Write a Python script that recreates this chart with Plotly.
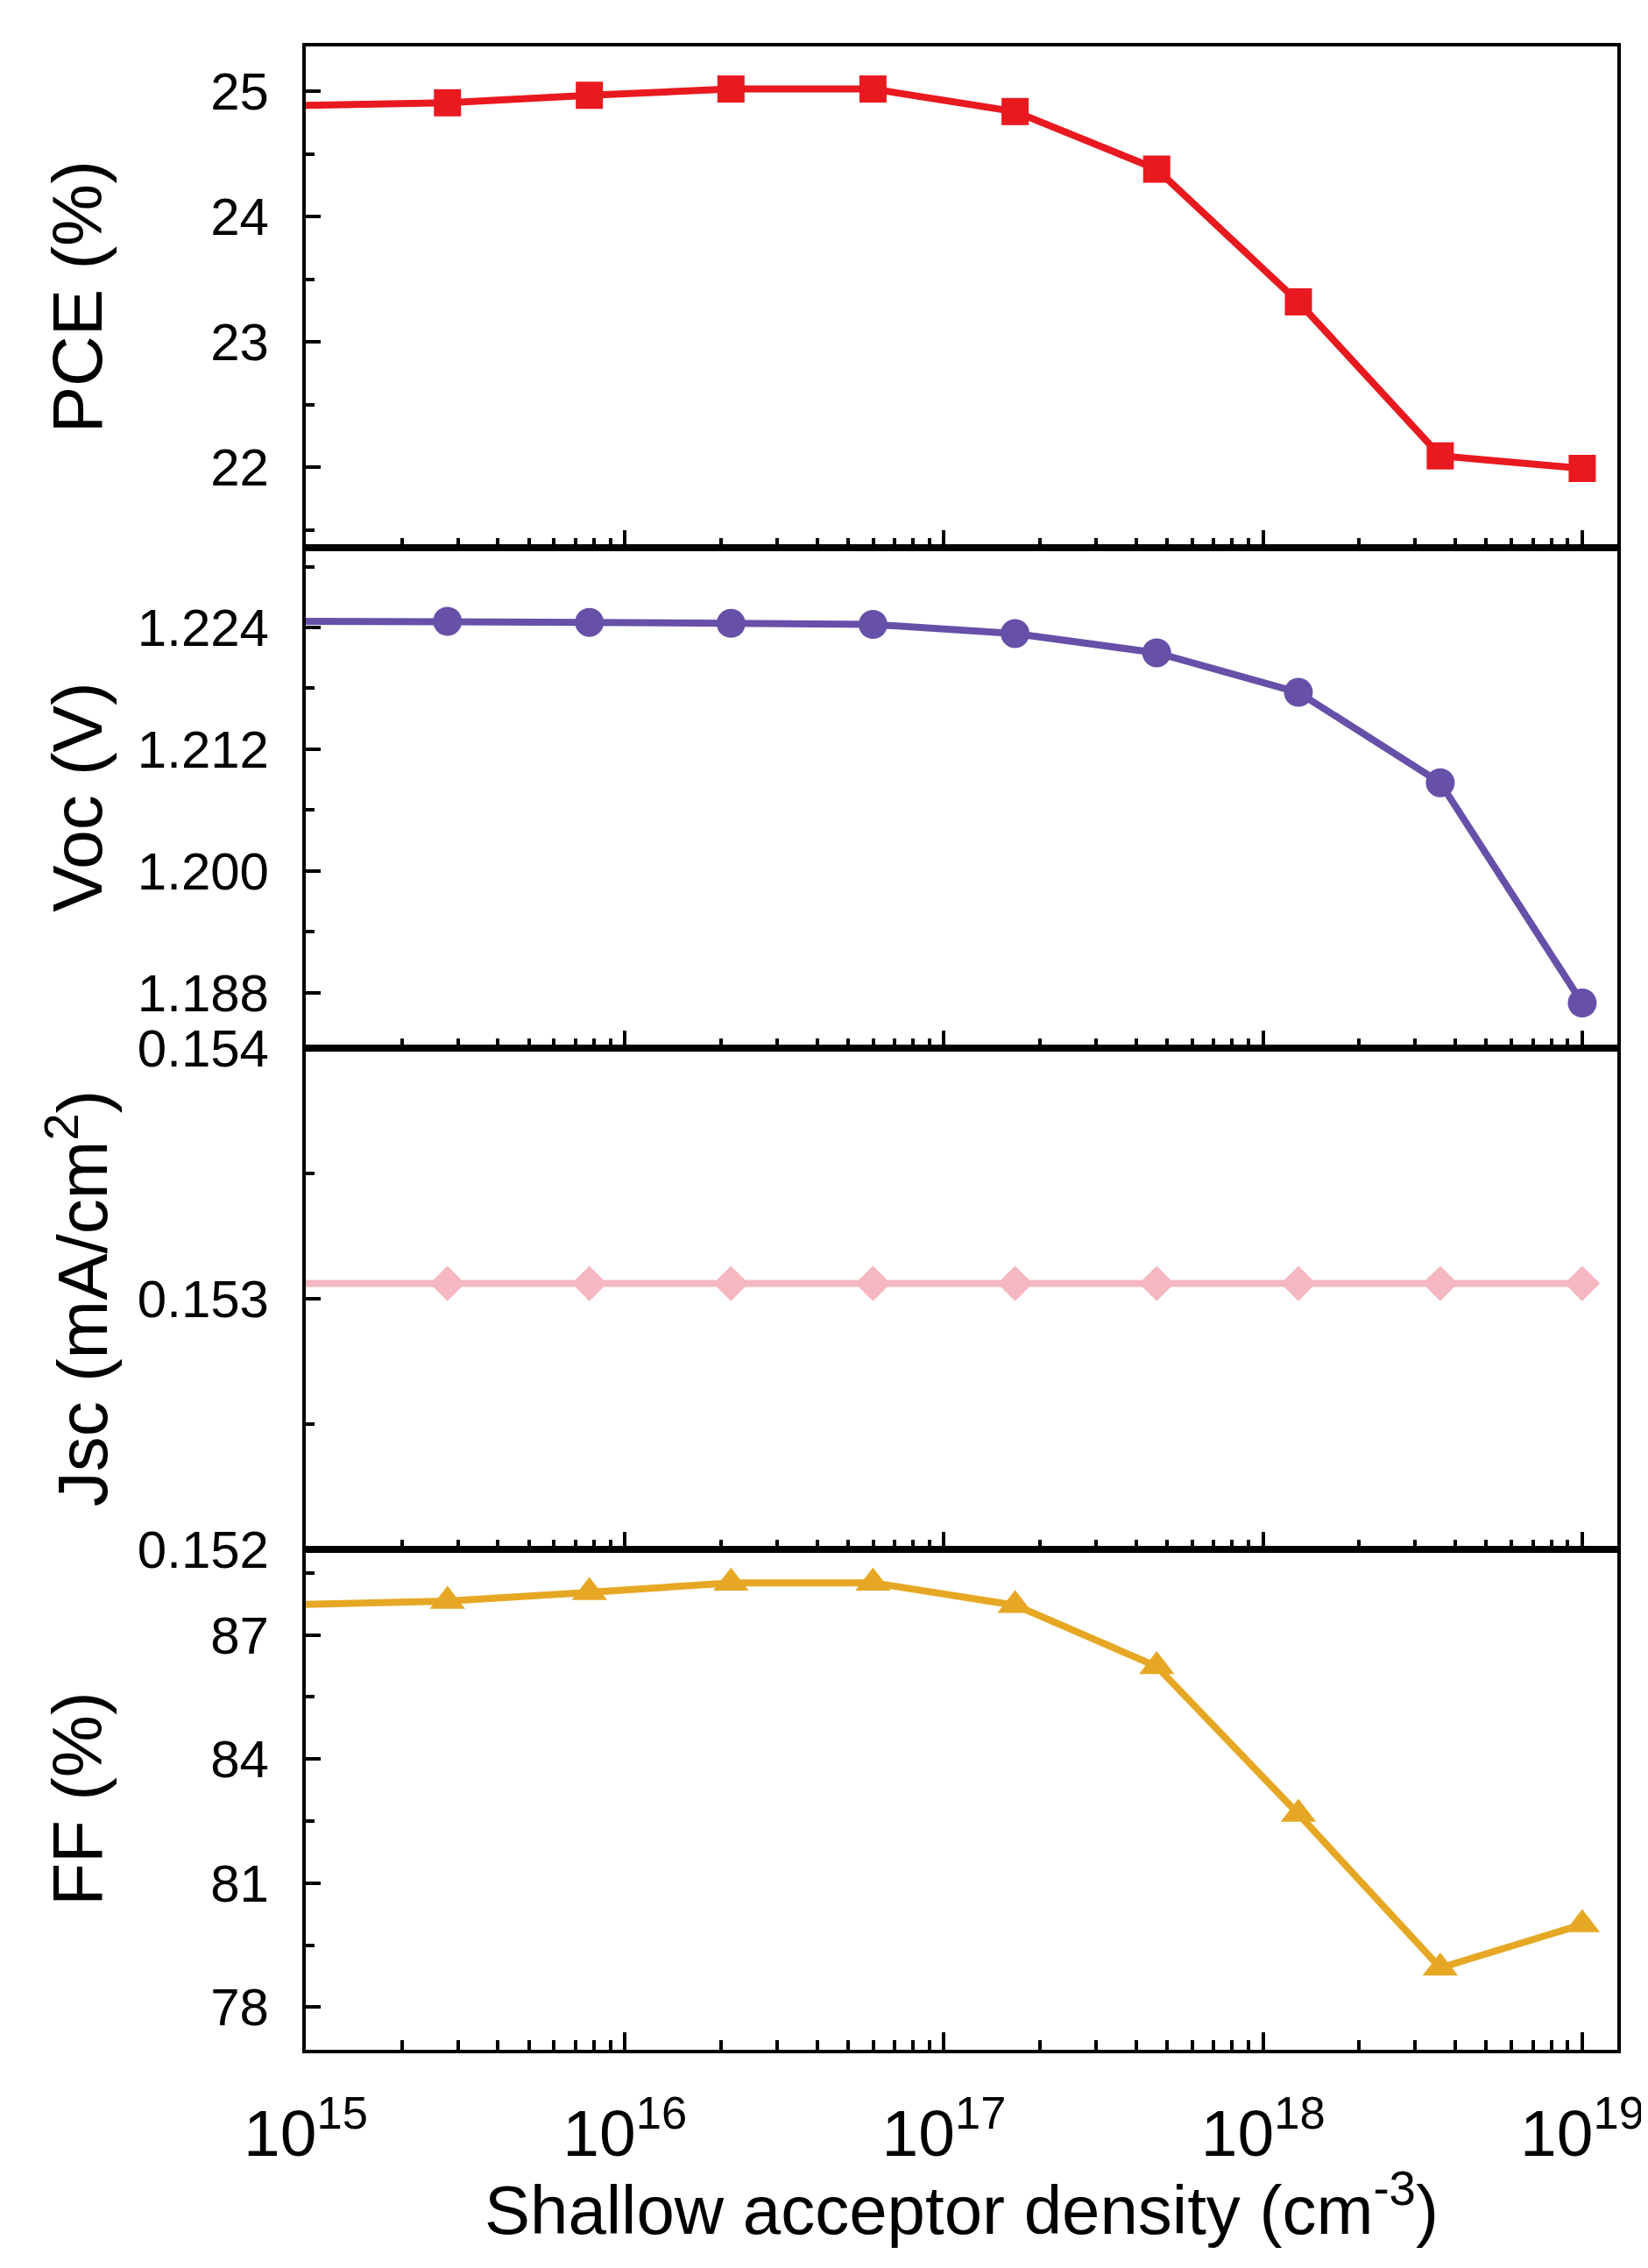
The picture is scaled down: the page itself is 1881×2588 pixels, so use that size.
import plotly.graph_objects as go
from plotly.subplots import make_subplots

# Shallow acceptor density (cm-3)
densidade = [1.0e15, 2.78e15, 7.74e15, 2.15e16, 5.99e16,
             1.67e17, 4.64e17, 1.29e18, 3.59e18, 1.0e19]

pce = [24.89, 24.91, 24.97, 25.02, 25.02, 24.84, 24.38, 23.32, 22.09, 21.99]
voc = [1.2246, 1.2246, 1.2245, 1.2244, 1.2243, 1.2234, 1.2215, 1.2176, 1.2087, 1.1870]
jsc = [0.15306] * 10
ff = [87.74, 87.82, 88.03, 88.26, 88.26, 87.72, 86.24, 82.67, 78.95, 80.00]

paineis = [
    dict(y=pce, cor='#e8191f', simbolo='square', tam=31, titulo='PCE (%)',
         faixa=[21.36, 25.36], dtick=1, tick0=22, fmt='d'),
    dict(y=voc, cor='#6650a8', simbolo='circle', tam=33, titulo='Voc (V)',
         faixa=[1.18255, 1.2319], dtick=0.012, tick0=1.188, fmt='.3f'),
    dict(y=jsc, cor='#f5b7c0', simbolo='diamond', tam=31,
         titulo='Jsc (mA/cm<sup>2</sup>)',
         faixa=[0.152, 0.154], dtick=0.001, tick0=0.152, fmt='.3f'),
    dict(y=ff, cor='#e6a824', simbolo='triangle-up', tam=35, titulo='FF (%)',
         faixa=[76.97, 89.08], dtick=3, tick0=78, fmt='d'),
]

fonte = 'Liberation Sans, Arial, sans-serif'

fig = make_subplots(rows=4, cols=1, shared_xaxes=True, vertical_spacing=0)

for i, p in enumerate(paineis, start=1):
    fig.add_trace(go.Scatter(
        x=densidade, y=p['y'], mode='lines+markers',
        line=dict(color=p['cor'], width=8),
        marker=dict(symbol=p['simbolo'], size=p['tam'], color=p['cor']),
        showlegend=False, cliponaxis=False
    ), row=i, col=1)

    fig.update_yaxes(
        range=p['faixa'], dtick=p['dtick'], tick0=p['tick0'], tickformat=p['fmt'],
        ticks='inside', ticklen=17, tickwidth=4, tickcolor='black',
        minor=dict(ticks='inside', ticklen=10, tickwidth=4, tickcolor='black',
                   dtick=p['dtick'] / 2, tick0=p['tick0']),
        showline=True, linewidth=4, linecolor='black', mirror=True,
        showgrid=False, zeroline=False,
        tickfont=dict(family=fonte, size=60, color='black'),
        ticklabelstandoff=26,
        row=i, col=1
    )

    # titulo do eixo y como anotacao para ficar alinhado entre paineis
    dom = fig.layout['yaxis' + ('' if i == 1 else str(i))].domain
    fig.add_annotation(
        text=p['titulo'], xref='paper', yref='paper',
        x=-0.174, y=(dom[0] + dom[1]) / 2, textangle=-90,
        showarrow=False, xanchor='center', yanchor='middle',
        font=dict(family=fonte, size=80, color='black')
    )

fig.update_xaxes(
    type='log', range=[15, 19.11], dtick=1, exponentformat='power',
    ticks='inside', ticklen=20, tickwidth=4, tickcolor='black',
    minor=dict(ticks='inside', ticklen=11, tickwidth=4, tickcolor='black', dtick='D1'),
    showline=True, linewidth=4, linecolor='black', mirror=True,
    showgrid=False, zeroline=False,
    tickfont=dict(family=fonte, size=60, color='black')
)
fig.update_xaxes(ticklabelstandoff=30, row=4, col=1)

# titulo do eixo x
fig.add_annotation(
    text='Shallow acceptor density (cm<sup>-3</sup>)', xref='paper', yref='paper',
    x=0.5, y=-0.0775, showarrow=False, xanchor='center', yanchor='middle',
    font=dict(family=fonte, size=78, color='black')
)

fig.update_layout(
    width=1881, height=2588,
    plot_bgcolor='white', paper_bgcolor='white',
    margin=dict(l=341, r=41, t=40, b=257),
    font=dict(family=fonte, color='black')
)

fig.write_html('out.html')
